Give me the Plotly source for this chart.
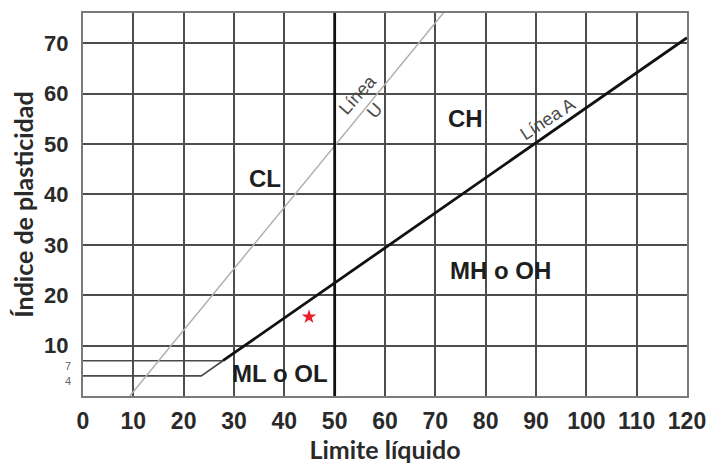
import plotly.graph_objects as go

# ---- data ----
x_ticks = [0, 10, 20, 30, 40, 50, 60, 70, 80, 90, 100, 110, 120]
y_ticks = [10, 20, 30, 40, 50, 60, 70]
y_small_ticks = [4, 7]

# Línea A (thick)
a_line_ll = [27.8, 120]
a_line_pi = [7.0, 71.1]
# Línea U (light gray)
u_line_ll = [9.3, 71.6]
u_line_pi = [0.0, 76.0]
# Límite líquido = 50 divisor
ll50_x = [50, 50]
ll50_y = [0, 76]
# CL-ML zone outline (PI 4 and 7)
zone_ll = [0, 23.5, 27.8, 0]
zone_pi = [4, 4, 7, 7]
# sample point
sample_ll = [44.9]
sample_pi = [15.7]

zone_labels = ["CL", "CH", "MH o OH", "ML o OL"]
zone_label_ll = [36.2, 75.9, 82.9, 39.1]
zone_label_pi = [43.1, 55.0, 24.9, 4.5]

fig = go.Figure()

fig.add_trace(go.Scatter(x=zone_ll, y=zone_pi, mode="lines",
                         line=dict(color="#4a4a4a", width=1.6), hoverinfo="skip"))
fig.add_trace(go.Scatter(x=u_line_ll, y=u_line_pi, mode="lines",
                         line=dict(color="#b0b0b0", width=1.5), hoverinfo="skip"))
fig.add_trace(go.Scatter(x=ll50_x, y=ll50_y, mode="lines",
                         line=dict(color="#111111", width=2.8), hoverinfo="skip"))
fig.add_trace(go.Scatter(x=a_line_ll, y=a_line_pi, mode="lines",
                         line=dict(color="#111111", width=2.8), hoverinfo="skip"))
fig.add_trace(go.Scatter(x=sample_ll, y=sample_pi, mode="markers",
                         marker=dict(symbol="star", size=11, color="#e8202a"),
                         hoverinfo="skip"))

for t, xx, yy in zip(zone_labels, zone_label_ll, zone_label_pi):
    fig.add_annotation(x=xx, y=yy, text=t, showarrow=False,
                       font=dict(family="Liberation Sans", size=24, color="#1e1e1e",
                                 weight="bold"))

fig.add_annotation(x=56.2, y=58.3, text="Línea<br>U", showarrow=False, textangle=-48,
                   font=dict(family="Liberation Sans", size=18, color="#4a4a4a"))
fig.add_annotation(x=92.3, y=55.0, text="Línea A", showarrow=False, textangle=-33,
                   font=dict(family="Liberation Sans", size=18, color="#4a4a4a"))

for v in y_small_ticks:
    fig.add_annotation(x=0, xref="paper", y=v, yref="y", text=str(v), showarrow=False,
                       xanchor="right", xshift=-10, yshift=-5,
                       font=dict(family="Liberation Sans", size=11, color="#666666"))

fig.update_layout(
    width=714, height=464,
    margin=dict(l=75, r=35, t=5, b=76),
    paper_bgcolor="white", plot_bgcolor="white",
    showlegend=False,
)
fig.update_xaxes(
    range=[0, 120], tickvals=x_ticks, ticktext=[str(v) for v in x_ticks],
    showgrid=True, gridcolor="#4d4d4d", gridwidth=1.8, zeroline=False,
    showline=True, linecolor="#7a7a7a", linewidth=2, mirror=True,
    ticks="", ticklabelstandoff=3, automargin=False,
    tickfont=dict(family="Liberation Sans Narrow, Liberation Sans", size=23,
                  color="#2a2a2a", weight="bold"),
    title=dict(text="Limite líquido", standoff=6,
               font=dict(family="Lato", size=25, color="#2a2a2a", weight="bold")),
)
fig.update_yaxes(
    range=[0, 76], tickvals=y_ticks, ticktext=[str(v) for v in y_ticks],
    showgrid=True, gridcolor="#4d4d4d", gridwidth=1.8, zeroline=False,
    showline=True, linecolor="#7a7a7a", linewidth=2, mirror=True,
    ticks="", ticklabelstandoff=8, automargin=False,
    tickfont=dict(family="Liberation Sans", size=22, color="#2a2a2a", weight="bold"),
    title=dict(text="Índice de plasticidad", standoff=6,
               font=dict(family="Lato", size=25, color="#2a2a2a", weight="bold")),
)

fig.write_html("out.html")
